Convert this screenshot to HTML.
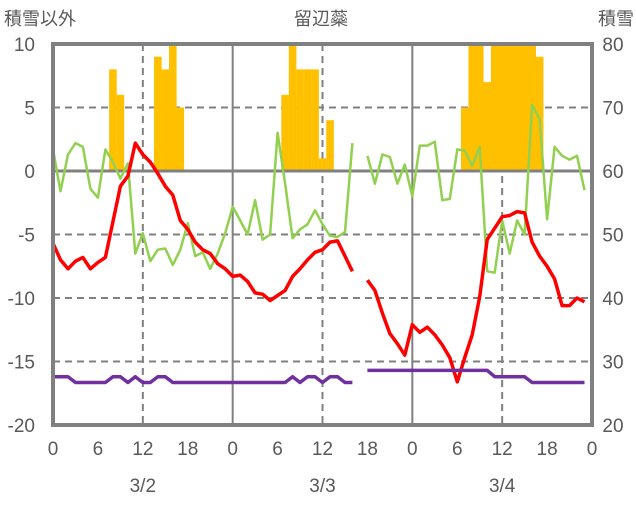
<!DOCTYPE html>
<html><head><meta charset="utf-8"><style>
body{margin:0;background:#fff;}
svg text{font-family:"Liberation Sans","Noto Sans CJK JP",sans-serif;fill:#595959;}
</style></head><body>
<svg id="c" width="636" height="501" xmlns="http://www.w3.org/2000/svg"></svg>
<script>
const hours = Array.from({length:72},(_,i)=>i);
const snowfallHours = [8,9,14,15,16,17,31,32,33,34,35,36,37,55,56,57,58,59,60,61,62,63,64,65];
const snowfallValues = [8,6,9,8,10,5,6,10,8,8,8,1,4,5,10,10,7,10,10,10,10,10,10,9];
const temperature = [-5.7,-7.0,-7.7,-7.1,-6.8,-7.7,-7.2,-6.8,-4.0,-1.2,-0.4,2.2,1.3,0.7,-0.2,-1.2,-1.9,-3.9,-4.6,-5.6,-6.2,-6.5,-7.3,-7.7,
-8.3,-8.2,-8.7,-9.6,-9.7,-10.2,-9.8,-9.4,-8.3,-7.7,-7.0,-6.4,-6.2,-5.6,-5.5,-6.7,-7.9,null,-8.6,-9.4,-11.2,-12.8,-13.6,-14.5,
-12.1,-12.7,-12.3,-12.9,-13.7,-14.7,-16.6,-14.7,-12.9,-9.9,-5.4,-4.5,-3.6,-3.5,-3.2,-3.3,-5.6,-6.7,-7.5,-8.5,-10.6,-10.6,-10.0,-10.3];
const greenSeries = [1.7,-1.6,1.3,2.2,1.9,-1.4,-2.1,1.7,0.7,-0.6,0.6,-6.5,-4.9,-7.1,-6.2,-6.1,-7.4,-6.2,-4.1,-6.7,-6.4,-7.7,-6.5,-4.9,
-2.8,-3.9,-5.0,-2.3,-5.4,-5.0,3.0,-1.0,-5.3,-4.6,-4.2,-3.1,-4.2,-5.1,-5.2,-4.8,2.2,null,1.2,-1.0,1.3,1.1,-1.0,0.5,
-2.0,2.0,2.0,2.3,-2.3,-2.2,1.7,1.6,0.4,1.9,-7.9,-8.0,-3.9,-6.5,-3.9,-5.0,5.2,4.1,-3.8,1.9,1.2,0.9,1.2,-1.5];
const snowDepth = [27.6,27.6,27.6,26.7,26.7,26.7,26.7,26.7,27.6,27.6,26.7,27.6,26.7,26.7,27.6,27.6,26.7,26.7,26.7,26.7,26.7,26.7,26.7,26.7,
26.7,26.7,26.7,26.7,26.7,26.7,26.7,26.7,27.6,26.7,27.6,27.6,26.7,27.6,27.6,26.7,26.7,null,28.6,28.6,28.6,28.6,28.6,28.6,
28.6,28.6,28.6,28.6,28.6,28.6,28.6,28.6,28.6,28.6,28.6,27.6,27.6,27.6,27.6,27.6,26.7,26.7,26.7,26.7,26.7,26.7,26.7,26.7];
const leftTicks = [10,5,0,-5,-10,-15,-20];
const rightTicks = [80,70,60,50,40,30,20];
const xTickLabels = ['0','6','12','18','0','6','12','18','0','6','12','18','0'];
const dateLabels = ['3/2','3/3','3/4'];

const L=53,R=592,T=44,B=425;
const x=h=>L+(R-L)*h/72;
const yL=v=>T+(10-v)/30*(B-T);
const yR=v=>T+(80-v)/60*(B-T);
const svg=document.getElementById('c');
const NS='http://www.w3.org/2000/svg';
function mk(tag,attrs,parent){const e=document.createElementNS(NS,tag);for(const k in attrs)e.setAttribute(k,attrs[k]);(parent||svg).appendChild(e);return e;}

// gridlines
leftTicks.forEach(v=>{
  if(v===10||v===-20||v===0)return;
  const g=mk('line',{x1:L,x2:R,y1:yL(v),y2:yL(v),stroke:'#808080','stroke-width':2,'stroke-dasharray':'7,5'});
  
  
});
[12,36,60].forEach(h=>{
  const g=mk('line',{x1:x(h),x2:x(h),y1:T,y2:B,stroke:'#808080','stroke-width':2,'stroke-dasharray':'7,5'});
  
  
});
[24,48].forEach(h=>{
  const g=mk('line',{x1:x(h),x2:x(h),y1:T,y2:B,stroke:'#808080','stroke-width':2});
  
  
});
// bars
snowfallHours.forEach((h,i)=>{
  const v=Math.min(snowfallValues[i],10);
  const b=mk('rect',{x:x(h)-3.75,width:7.6,y:yL(v),height:yL(0)-yL(v),fill:'#FFC000'});
  
  
});
const zl=mk('line',{x1:L,x2:R,y1:yL(0),y2:yL(0),stroke:'#808080','stroke-width':3});



function line(vals,yf,color,w,name){
  let d='',pen=false;
  vals.forEach((v,i)=>{ if(v===null){pen=false;return;} d+=(pen?'L':'M')+x(hours[i]).toFixed(1)+','+yf(v).toFixed(1); pen=true;});
  const p=mk('path',{d:d,fill:'none',stroke:color,'stroke-width':w,'stroke-linejoin':'round'});
  
  
}
line(greenSeries,yL,'#92D050',2.5,'green-series-line');
line(temperature,yL,'#FF0000',3.5,'temperature-line');
line(snowDepth,yR,'#7030A0',3.5,'snow-depth-line');

const fr=mk('rect',{x:L,y:T,width:R-L,height:B-T,fill:'none',stroke:'#808080','stroke-width':4});



leftTicks.forEach(v=>{
  const t=mk('text',{x:35,y:yL(v)+7,'text-anchor':'end','font-size':19});t.textContent=v;
  
  
});
rightTicks.forEach(v=>{
  const t=mk('text',{x:613,y:yR(v)+7,'text-anchor':'middle','font-size':19});t.textContent=v;
  
  
});
xTickLabels.forEach((s,i)=>{
  const t=mk('text',{x:x(i*6),y:455,'text-anchor':'middle','font-size':19});t.textContent=s;
  
  
});
dateLabels.forEach((s,i)=>{
  const t=mk('text',{x:x(12+24*i),y:492,'text-anchor':'middle','font-size':19});t.textContent=s;
  
  
});
const t1=mk('text',{x:4,y:25,'font-size':18});t1.textContent='積雪以外';


const t2=mk('text',{x:321,y:25,'text-anchor':'middle','font-size':18});t2.textContent='留辺蘂';


const t3=mk('text',{x:634,y:25,'text-anchor':'end','font-size':18});t3.textContent='積雪';


</script>
</body></html>
